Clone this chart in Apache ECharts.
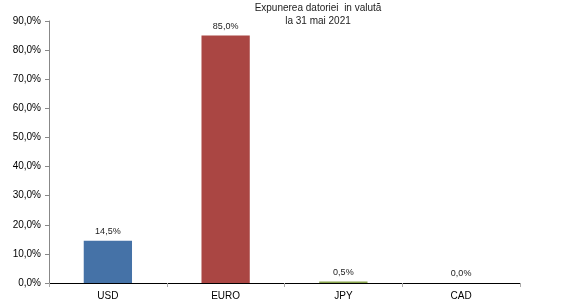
<!DOCTYPE html>
<html>
<head>
<meta charset="utf-8">
<script src="https://cdn.jsdelivr.net/npm/echarts@6/dist/echarts.min.js"></script>
<style>
  html, body { margin: 0; padding: 0; background: #fff; }
  #main { width: 566px; height: 306px; }
</style>
</head>
<body>
<div id="main"></div>
<script>
// datele graficului
var categories = ['USD', 'EURO', 'JPY', 'CAD'];
var values = [14.5, 85.0, 0.5, 0.0];
var barColors = ['#4572A7', '#AA4643', '#89A54E', '#71588F'];
var yTicks = [0, 10, 20, 30, 40, 50, 60, 70, 80, 90];

function fmt(v) {
  return v.toFixed(1).replace('.', ',') + '%';
}

var myChart = echarts.init(document.getElementById('main'));

var option = {
  animation: false,
  textStyle: { fontFamily: 'Liberation Sans, Arial, sans-serif' },
  title: {
    text: 'Expunerea datoriei  in valută\nla 31 mai 2021',
    left: 313,
    top: -3,
    textAlign: 'center',
    textStyle: { fontSize: 10, fontWeight: 'normal', color: '#222', lineHeight: 13 }
  },
  grid: { left: 49, right: 46, top: 21, bottom: 23 },
  xAxis: {
    type: 'category',
    data: categories,
    axisLine: { lineStyle: { color: '#000', width: 1 } },
    axisTick: { show: true, length: 4, lineStyle: { color: '#aaa' } },
    axisLabel: { color: '#000', fontSize: 10, margin: 8 }
  },
  yAxis: {
    type: 'value',
    min: yTicks[0],
    max: yTicks[yTicks.length - 1],
    interval: 10,
    axisLine: { show: true, lineStyle: { color: '#888' } },
    axisTick: { show: true, length: 4, lineStyle: { color: '#888' } },
    splitLine: { show: false },
    axisLabel: { color: '#000', fontSize: 10, margin: 8, formatter: function (v) { return fmt(v); } }
  },
  series: [{
    type: 'bar',
    barWidth: '41%',
    data: values.map(function (v, i) {
      return { value: v, itemStyle: { color: barColors[i] } };
    }),
    label: {
      show: true,
      position: 'top',
      distance: 5,
      fontSize: 9,
      color: '#222',
      formatter: function (p) { return fmt(p.value); }
    }
  }]
};

myChart.setOption(option);
</script>
</body>
</html>
